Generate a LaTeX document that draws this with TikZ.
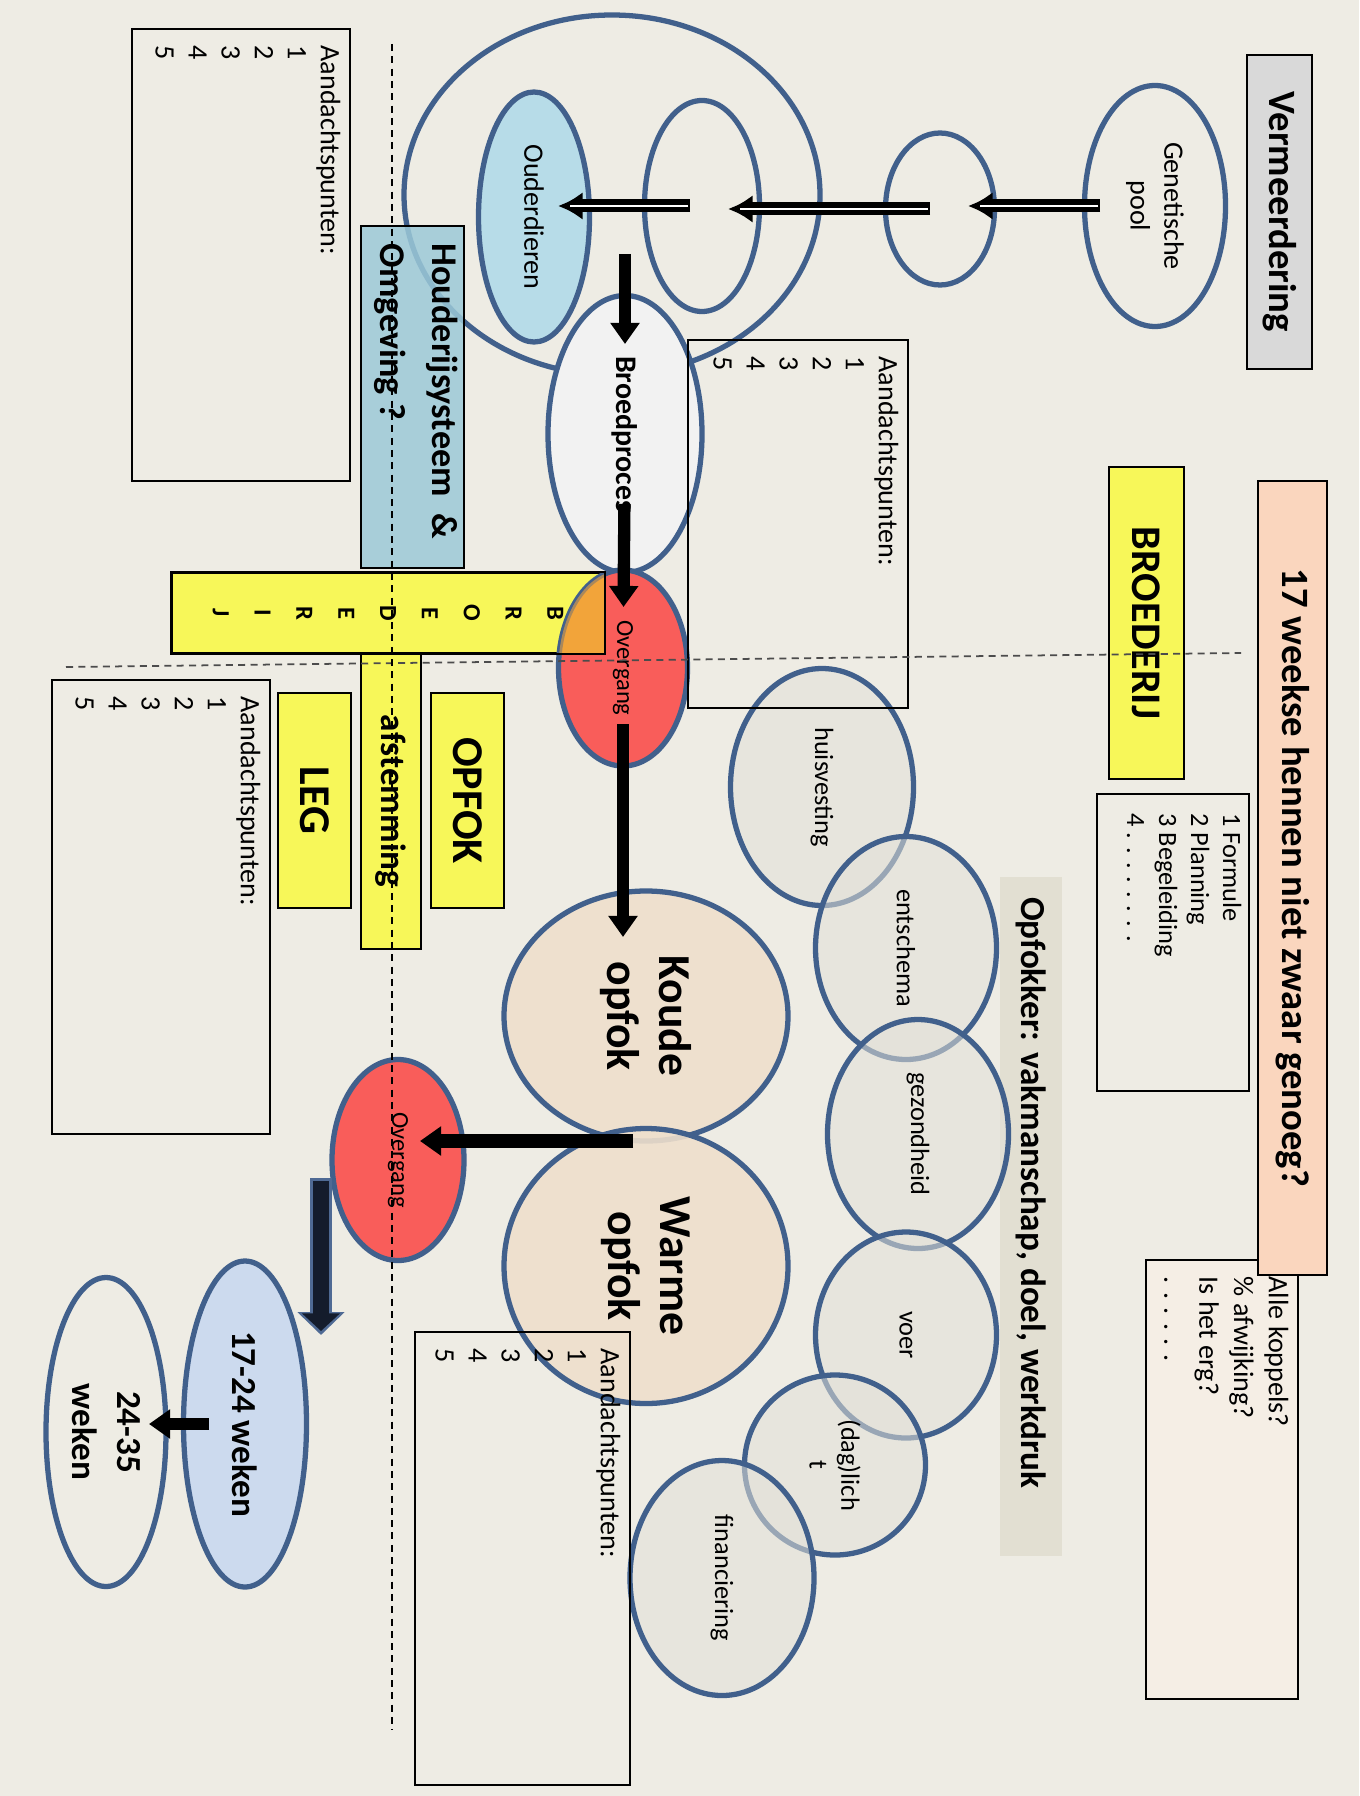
\documentclass[tikz,border=0pt]{standalone}
\usepackage{fontspec}
\setmainfont{Carlito}
\usepackage{tikz}
\usetikzlibrary{arrows.meta}
\usetikzlibrary{shapes.geometric}
\usetikzlibrary{calc}
\definecolor{bg}{HTML}{EEECE4}
\definecolor{ringblue}{HTML}{41608C}
\definecolor{hlyellow}{HTML}{F7F759}
\definecolor{peach}{HTML}{FAD6BE}
\definecolor{greybox}{HTML}{D9D9D9}
\definecolor{skyblue}{HTML}{9CC9D8}
\definecolor{ouderblue}{HTML}{B7DCE8}
\definecolor{redfill}{HTML}{F95D5A}
\definecolor{overlap}{HTML}{F2A43A}
\definecolor{opfokfill}{HTML}{EFDFCC}
\definecolor{weekblue}{HTML}{CCDAEE}
\definecolor{ringfill}{HTML}{E2E1D8}
\definecolor{bandfill}{HTML}{E2DFD2}
\definecolor{notefill}{HTML}{F5EEE5}
\definecolor{broedfill}{HTML}{F2F2F2}
\definecolor{navy}{HTML}{141C2C}
\definecolor{navyedge}{HTML}{4F6A94}
\tikzset{ring/.style = {ellipse, draw = ringblue, line width = 1.5pt, inner sep = 0, align = center,
                        font = \fontsize{8}{9.6}\selectfont}}
\tikzset{topic/.style = {ring, fill = ringfill, fill opacity = 0.55, text opacity = 1,
                         font = \fontsize{7.5}{9}\selectfont}}
\tikzset{note/.style = {draw, line width = 0.6pt, inner sep = 0}}
\tikzset{notetext/.style = {anchor = north west, align = left, inner xsep = 0.17cm, inner ysep = 0.1cm,
                            font = \fontsize{8}{9.4}\selectfont}}
\tikzset{tag/.style = {draw, line width = 0.6pt, inner sep = 0, align = center,
                       font = \bfseries\fontsize{11}{13}\selectfont}}
\tikzset{fat/.style = {line width = 3.5pt, -{Triangle[width = 8pt, length = 6pt]}}}
\tikzset{hollow/.style = {line width = 3.7pt, -{Latex[width = 8pt, length = 7pt]}}}
\tikzset{core/.style = {white, line width = 0.5pt}}
\tikzset{split/.style = {line width = 0.5pt, dash pattern = on 2pt off 1.5pt}}

\begin{document}
\begin{tikzpicture}[rotate=-90, transform shape]
    \fill [bg] (0, 0) rectangle (17.96, 13.59);

    \node [tag, fill = greybox, minimum width = 3.14cm, minimum height = 0.65cm] (vermeer) at (2.12, 12.795) {Vermeerdering};
    \node [tag, fill = notefill, minimum width = 4.39cm, minimum height = 1.52cm] (koppels) at (14.795, 12.22) {};
    \node [notetext, font = \fontsize{8}{9.9}\selectfont] (koppelstext) at (koppels.north west) {Alle koppels?\\\% afwijking?\\Is het erg?\\. . . . . .};
    \node [tag, fill = peach, minimum width = 7.94cm, minimum height = 0.69cm] (vraag) at (8.78, 12.925) {17 weekse hennen niet zwaar genoeg?};
    \node [tag, fill = hlyellow, minimum width = 3.12cm, minimum height = 0.75cm, font = \bfseries\fontsize{12}{14}\selectfont] (broederij) at (6.23, 11.465) {BROEDERIJ};
    \node [note, minimum width = 2.97cm, minimum height = 1.52cm] (plan) at (9.425, 11.73) {};
    \node [notetext, inner xsep = 0.2cm, inner ysep = 0.08cm, font = \fontsize{7.5}{9.1}\selectfont] (plantext) at (plan.north west) {1 Formule\\2 Planning\\3 Begeleiding\\4 . . . . . . . .};
    \node [fill = bandfill, inner sep = 0, minimum width = 6.79cm, minimum height = 0.62cm] (band) at (12.165, 10.31) {};
    \node [anchor = west, inner xsep = 0.2cm, font = \bfseries\fontsize{10}{12}\selectfont] (bandtext) at (band.west) {Opfokker: vakmanschap, doel, werkdruk};

    \node [ring, minimum width = 3.60cm, minimum height = 4.16cm] (herd) at (1.95, 6.12) {};
    \node [ring, minimum width = 2.41cm, minimum height = 1.41cm] (pool) at (2.06, 11.55) {Genetische\\pool};
    \node [ring, minimum width = 1.52cm, minimum height = 1.09cm] (stage1) at (2.09, 9.40) {};
    \node [ring, minimum width = 2.11cm, minimum height = 1.15cm] (stage2) at (2.06, 7.02) {};
    \node [ring, fill = ouderblue, minimum width = 2.50cm, minimum height = 1.11cm] (ouder) at (2.17, 5.34) {Ouderdieren};
    \node [ring, fill = broedfill, minimum width = 2.77cm, minimum height = 1.54cm, font = \bfseries\fontsize{8.5}{10}\selectfont] (broed) at (4.34, 6.25) {Broedproces};

    \node [tag, fill = skyblue, fill opacity = 0.85, text opacity = 1, minimum width = 3.42cm, minimum height = 1.03cm] (houderij) at (3.97, 4.125) {};
    \node [notetext, inner xsep = 0.18cm, inner ysep = 0.06cm, font = \bfseries\fontsize{10.3}{14.8}\selectfont] (houderijtext) at (houderij.north west) {Houderijsysteem\ \ \&\\Omgeving ?};
    \node [tag, fill = hlyellow, minimum width = 0.80cm, minimum height = 4.32cm, font = \bfseries\fontsize{7}{11.9}\selectfont] (kolom) at (6.13, 3.88) {B\\R\\O\\E\\D\\E\\R\\I\\J};
    \node [tag, fill = hlyellow, minimum width = 2.96cm, minimum height = 0.60cm, font = \bfseries\fontsize{10}{12}\selectfont] (afstem) at (8.01, 3.91) {afstemming};
    \node [tag, fill = hlyellow, minimum width = 2.15cm, minimum height = 0.73cm, font = \bfseries\fontsize{12.5}{14}\selectfont] (opfok) at (8.005, 4.675) {OPFOK};
    \node [tag, fill = hlyellow, minimum width = 2.15cm, minimum height = 0.73cm, font = \bfseries\fontsize{12.5}{14}\selectfont] (leg) at (8.005, 3.145) {LEG};

    \node [ring, fill = redfill, minimum width = 1.96cm, minimum height = 1.29cm, font = \fontsize{7}{8}\selectfont] (overgang1) at (6.68, 6.23) {Overgang};
    \begin{scope}
      \clip (kolom.south west) rectangle (kolom.north east);
      \fill [overlap] (6.68, 6.23) ellipse [x radius = 0.98, y radius = 0.645];
      \draw [ringblue, line width = 1.5pt, draw opacity = 0.4] (6.68, 6.23) ellipse [x radius = 0.98, y radius = 0.645];
    \end{scope}
    \draw [line width = 0.6pt] (kolom.south west) rectangle (kolom.north east);

    \node [topic, minimum width = 2.37cm, minimum height = 1.83cm] (huis) at (7.87, 8.22) {huisvesting};
    \node [topic, minimum width = 2.23cm, minimum height = 1.81cm] (ent) at (9.48, 9.06) {entschema};
    \node [topic, minimum width = 2.29cm, minimum height = 1.81cm] (gezond) at (11.34, 9.18) {gezondheid};
    \node [topic, minimum width = 2.06cm, minimum height = 1.81cm] (voer) at (13.35, 9.06) {voer};
    \node [topic, minimum width = 1.80cm, minimum height = 1.81cm] (licht) at (14.65, 8.35) {(dag)lich\\t};
    \node [topic, minimum width = 2.35cm, minimum height = 1.84cm] (financ) at (15.78, 7.22) {financiering};

    \node [ring, fill = opfokfill, fill opacity = 0.9, text opacity = 1, minimum width = 2.50cm, minimum height = 2.84cm, font = \bfseries\fontsize{13}{14.8}\selectfont] (koude) at (10.16, 6.46) {Koude\\opfok};
    \node [ring, fill = opfokfill, fill opacity = 0.9, text opacity = 1, minimum width = 2.75cm, minimum height = 2.84cm, font = \bfseries\fontsize{13}{14.8}\selectfont] (warme) at (12.66, 6.46) {Warme\\opfok};
    \node [ring, fill = redfill, minimum width = 2.01cm, minimum height = 1.32cm, font = \fontsize{7}{8}\selectfont] (overgang2) at (11.60, 3.98) {Overgang};
    \node [ring, fill = weekblue, minimum width = 3.26cm, minimum height = 1.23cm, font = \bfseries\fontsize{10}{12.8}\selectfont] (early) at (14.24, 2.45) {17-24 weken};
    \node [ring, minimum width = 3.09cm, minimum height = 1.20cm, font = \bfseries\fontsize{10}{12.8}\selectfont] (late) at (14.32, 1.06) {24-35\\weken};

    \node [note, minimum width = 4.52cm, minimum height = 2.18cm] (puntenA) at (2.55, 2.41) {};
    \node [notetext] (puntenAtext) at (puntenA.north west) {Aandachtspunten:\\1\\2\\3\\4\\5};
    \node [note, minimum width = 3.68cm, minimum height = 2.20cm] (puntenB) at (5.24, 7.98) {};
    \node [notetext] (puntenBtext) at (puntenB.north west) {Aandachtspunten:\\1\\2\\3\\4\\5};
    \node [note, minimum width = 4.54cm, minimum height = 2.18cm] (puntenC) at (9.07, 1.61) {};
    \node [notetext] (puntenCtext) at (puntenC.north west) {Aandachtspunten:\\1\\2\\3\\4\\5};
    \node [note, minimum width = 4.53cm, minimum height = 2.15cm] (puntenD) at (15.585, 5.225) {};
    \node [notetext] (puntenDtext) at (puntenD.north west) {Aandachtspunten:\\1\\2\\3\\4\\5};

    \draw [split, black!70] (6.67, 0.66) -- (6.53, 12.41);
    \draw [split] (0.44, 3.92) -- (17.30, 3.92);

    \draw [hollow, shorten <= 0.55cm, shorten >= 0.28cm] (pool.center) -- (pool.center |- stage1.center);
    \draw [core, shorten <= 0.57cm, shorten >= 0.40cm] (pool.center) -- (pool.center |- stage1.center);
    \draw [hollow, shorten <= 0.10cm, shorten >= 0.26cm] (stage1.center) -- (stage1.center |- stage2.center);
    \draw [core, shorten <= 0.12cm, shorten >= 0.38cm] (stage1.center) -- (stage1.center |- stage2.center);
    \draw [hollow, shorten <= 0.12cm, shorten >= 0.24cm] (stage2.center) -- (stage2.center |- ouder.center);
    \draw [core, shorten <= 0.14cm, shorten >= 0.36cm] (stage2.center) -- (stage2.center |- ouder.center);

    \draw [fat, shorten <= 0.37cm, shorten >= 0.90cm] (ouder.center |- broed.center) -- (broed.center);
    \draw [fat, shorten <= 0.70cm, shorten >= 0.61cm] (broed.center) -- (overgang1.center);
    \draw [fat, shorten <= 0.56cm, shorten >= 0.79cm] (overgang1.center) -- (koude.center |- overgang1.center);
    \coordinate (seam) at ($(koude.center)!0.5!(warme.center)$);
    \draw [fat, line width = 4pt, shorten <= 0.13cm, shorten >= 0.22cm] (seam) -- (seam |- overgang2.center);
    \coordinate (dropA) at (11.78, 3.21);
    \coordinate (dropB) at (13.35, 3.21);
    \draw [navyedge, line width = 6.5pt, -{Triangle[width = 13pt, length = 6.5pt]}] (dropA) -- (dropB);
    \draw [navy, line width = 4.5pt, shorten <= 0.03cm, shorten >= 0.04cm, -{Triangle[width = 10.5pt, length = 5pt]}] (dropA) -- (dropB);
    \draw [fat, shorten <= 0.36cm, shorten >= 0.43cm] (early.center) -- (early.center |- late.center);
\end{tikzpicture}
\end{document}
